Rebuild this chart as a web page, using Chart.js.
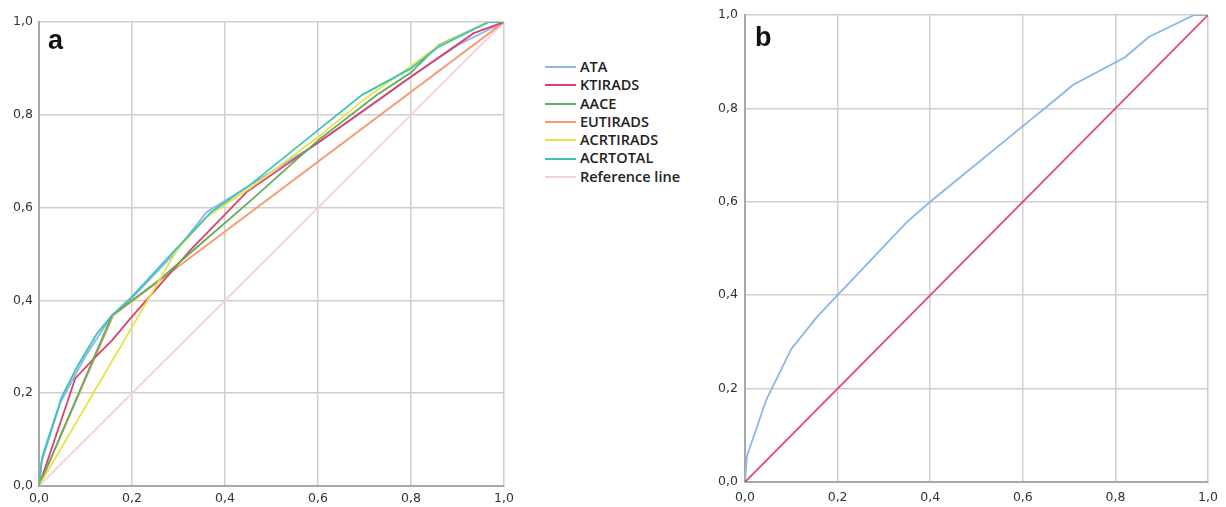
<!DOCTYPE html>
<html>
<head>
<meta charset="utf-8">
<script src="https://cdn.jsdelivr.net/npm/chart.js@4.4.1/dist/chart.umd.min.js"></script>
<style>
    body { margin: 0; background: #fff; width: 1226px; height: 507px; overflow: hidden; position: relative; font-family: "DejaVu Sans", sans-serif; }
    .panel { position: absolute; top: 0; height: 507px; }
    #panelA { left: 0; width: 520px; }
    #panelB { left: 700px; width: 526px; }
    .tag { position: absolute; font-family: "Liberation Sans", Arial, sans-serif; font-weight: bold; font-size: 27px; color: #111; }
    .legend { position: absolute; left: 545px; top: 58px; font-family: "Open Sans", sans-serif; font-weight: 600; font-size: 14.5px; color: #222; }
    .legend div { height: 18.3px; line-height: 18.3px; white-space: nowrap; }
    .legend span { display: inline-block; width: 31px; height: 2px; vertical-align: middle; margin-right: 4px; margin-top: -2px; }
</style>
</head>
<body>
<div class="panel" id="panelA"><canvas id="chartA"></canvas></div>
<div class="panel" id="panelB"><canvas id="chartB"></canvas></div>
<div class="tag" style="left:48px; top:25px;">a</div>
<div class="tag" style="left:755px; top:22px;">b</div>
<div class="legend" id="legend"></div>
<script>
// ROC curves, panel a  ([1 - specificity, sensitivity])
const ataA = [[0,0],[0.005,0.05],[0.046,0.18],[0.1,0.28],[0.157,0.368],[0.2,0.405],[0.29,0.5],[0.36,0.59],[0.4,0.615],[0.6,0.74],[0.7,0.81],[0.8,0.882],[0.9,0.95],[1,1]];
const ktirads = [[0,0],[0.078,0.232],[0.121,0.278],[0.157,0.314],[0.2,0.365],[0.325,0.508],[0.447,0.634],[0.6,0.74],[0.8,0.882],[0.935,0.976],[1,1]];
const aace = [[0,0],[0.157,0.368],[0.2,0.4],[0.26,0.445],[0.34,0.515],[0.454,0.614],[0.6,0.745],[0.727,0.843],[0.8,0.891],[0.86,0.951],[0.967,1],[1,1]];
const eutirads = [[0,0],[0.16,0.368],[1,1]];
const acrtirads = [[0,0],[0.297,0.509],[0.361,0.58],[0.454,0.642],[0.6,0.752],[0.695,0.83],[0.8,0.905],[0.86,0.95],[0.967,1],[1,1]];
const acrtotal = [[0,0],[0.007,0.063],[0.049,0.192],[0.082,0.257],[0.125,0.329],[0.157,0.368],[0.2,0.408],[0.293,0.509],[0.37,0.59],[0.454,0.649],[0.6,0.767],[0.695,0.843],[0.8,0.9],[0.86,0.947],[0.967,1],[1,1]];
const refLine = [[0,0],[1,1]];

// panel b
const ataB = [[0,0],[0.004,0.055],[0.046,0.176],[0.1,0.285],[0.156,0.354],[0.2,0.4],[0.35,0.557],[0.4,0.6],[0.6,0.762],[0.651,0.803],[0.708,0.85],[0.82,0.909],[0.872,0.953],[0.97,1],[1,1]];

const tickValues = [0, 0.2, 0.4, 0.6, 0.8, 1.0];

const seriesA = [
    { label: 'ATA', data: ataA, color: '#8ab6e8', order: 6 },
    { label: 'KTIRADS', data: ktirads, color: '#dc4169', order: 3 },
    { label: 'AACE', data: aace, color: '#60ad5f', order: 2 },
    { label: 'EUTIRADS', data: eutirads, color: '#f69868', order: 4 },
    { label: 'ACRTIRADS', data: acrtirads, color: '#e6e444', order: 1 },
    { label: 'ACRTOTAL', data: acrtotal, color: '#3fc2b9', order: 0 },
    { label: 'Reference line', data: refLine, color: '#f9cddb', order: 7 }
];

const seriesB = [
    { label: 'ATA', data: ataB, color: '#8ab6e8', order: 1 },
    { label: 'Reference line', data: refLine, color: '#e04870', order: 0 }
];

function toPoints(arr) {
    return arr.map(p => ({ x: p[0], y: p[1] }));
}

function makeScale(axis, size, pad) {
    return {
        type: 'linear',
        min: 0,
        max: 1,
        afterBuildTicks: s => { s.ticks = tickValues.map(v => ({ value: v })); },
        afterFit: s => { if (axis === 'x') s.height = size; else s.width = size; },
        grid: { color: '#cfcfcf', lineWidth: 1.5, drawTicks: false },
        border: { color: '#a8a8a8', width: 2 },
        ticks: {
            padding: pad,
            color: '#333',
            font: { family: 'DejaVu Sans', size: 12.5 },
            callback: v => v.toFixed(1).replace('.', ',')
        }
    };
}

function buildChart(id, series, layout) {
    const ctx = document.getElementById(id).getContext('2d');
    return new Chart(ctx, {
        type: 'scatter',
        data: {
            datasets: series.map(s => ({
                label: s.label,
                data: toPoints(s.data),
                showLine: true,
                borderColor: s.color,
                backgroundColor: s.color,
                borderWidth: 1.8,
                pointRadius: 0,
                tension: 0,
                order: s.order
            }))
        },
        options: {
            responsive: true,
            maintainAspectRatio: false,
            animation: false,
            layout: { padding: layout.padding },
            scales: {
                x: makeScale('x', layout.xHeight, layout.xPad),
                y: makeScale('y', layout.yWidth, layout.yPad)
            },
            plugins: {
                legend: { display: false },
                tooltip: { enabled: false }
            }
        }
    });
}

buildChart('chartA', seriesA, { padding: { top: 22, right: 16, left: 0, bottom: 0 }, xHeight: 21, yWidth: 39, xPad: 5, yPad: 6 });
buildChart('chartB', seriesB, { padding: { top: 15, right: 12, left: 0, bottom: 0 }, xHeight: 25, yWidth: 45, xPad: 8, yPad: 7 });

// Legend for panel a
const legend = document.getElementById('legend');
seriesA.forEach(s => {
    const row = document.createElement('div');
    row.innerHTML = '<span style="background:' + s.color + '"></span>' + s.label;
    legend.appendChild(row);
});
</script>
</body>
</html>
